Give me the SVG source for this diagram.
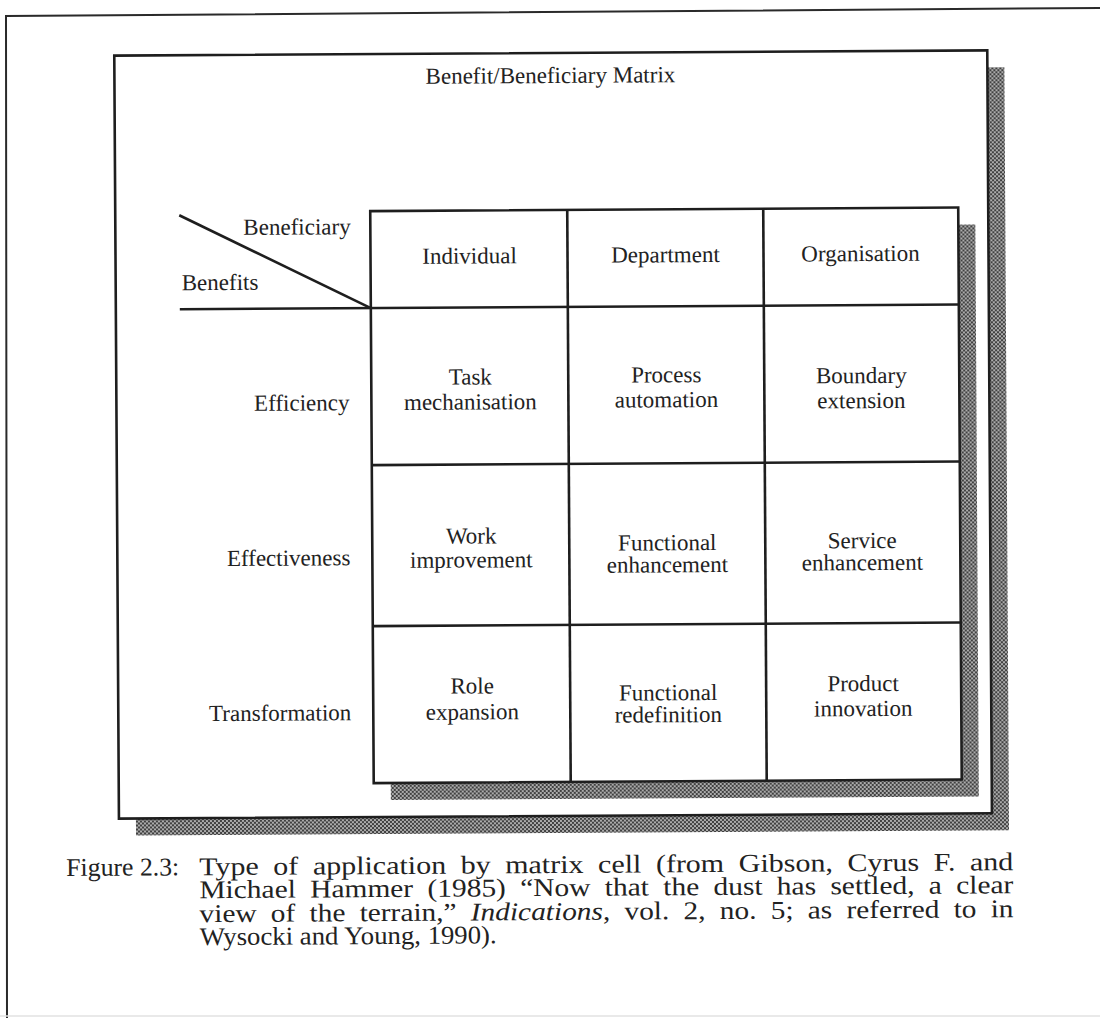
<svg xmlns="http://www.w3.org/2000/svg" width="1100" height="1018" viewBox="0 0 1100 1018">
  <defs>
    <!-- fine halftone used for the drop shadows -->
    <pattern id="dots" width="4" height="4" patternUnits="userSpaceOnUse">
      <rect width="4" height="4" fill="#acacac"/>
      <rect width="2" height="2" fill="#404040"/>
      <rect x="2" y="2" width="2" height="2" fill="#404040"/>
    </pattern>
    <style>
      .frame { fill: none; stroke: #2a2a2a; stroke-width: 2; }
      .box { fill: #ffffff; stroke: #1e1e1e; stroke-width: 2.6; }
      .grid { stroke: #1e1e1e; stroke-width: 2.6; fill: none; }
      .shadow { fill: url(#dots); }
      .t { font-family: "Liberation Serif", "Times New Roman", serif; font-size: 23px; fill: #222; }
      .c { text-anchor: middle; }
      .r { text-anchor: end; }
      .cap { font-family: "Liberation Serif", "Times New Roman", serif; font-size: 25.5px; fill: #222; }
      .just { word-spacing: 6px; }
    </style>
  </defs>

  <rect width="1100" height="1018" fill="#ffffff"/>

  <!-- page frame -->
  <path class="frame" d="M7,1018 L6,16 L1100,8"/>
  <line x1="0" y1="1016" x2="1100" y2="1016" stroke="#e2e2e2" stroke-width="1.5"/>

  <g transform="rotate(-0.35 550 500)">
    <!-- outer panel -->
    <g id="panel">
      <rect class="shadow" x="134" y="70" width="873" height="763"/>
      <rect class="box" x="117" y="53" width="873" height="763"/>
      <text class="t c" x="553" y="83" font-size="22">Benefit/Beneficiary Matrix</text>
    </g>

    <!-- matrix table -->
    <g id="matrix">
      <rect class="shadow" x="389" y="227" width="588" height="572"/>
      <rect class="box" x="372" y="210" width="588" height="572"/>
      <g id="grid-lines" class="grid">
        <line x1="569" y1="210" x2="569" y2="782"/>
        <line x1="765" y1="210" x2="765" y2="782"/>
        <line x1="181" y1="307" x2="960" y2="307"/>
        <line x1="372" y1="464" x2="960" y2="464"/>
        <line x1="372" y1="625" x2="960" y2="625"/>
        <line x1="181" y1="213" x2="372" y2="307"/>
      </g>
    </g>

    <!-- corner labels -->
    <g id="corner">
      <text class="t" x="245" y="233">Beneficiary</text>
      <text class="t" x="183" y="288">Benefits</text>
    </g>

    <!-- column headers -->
    <g id="col-individual"><text class="t c" x="471" y="263">Individual</text></g>
    <g id="col-department"><text class="t c" x="667" y="263">Department</text></g>
    <g id="col-organisation"><text class="t c" x="862" y="263">Organisation</text></g>

    <!-- row headers -->
    <g id="row-efficiency"><text class="t r" x="350" y="409">Efficiency</text></g>
    <g id="row-effectiveness"><text class="t r" x="350" y="564">Effectiveness</text></g>
    <g id="row-transformation"><text class="t r" x="350" y="719">Transformation</text></g>

    <!-- efficiency row -->
    <g id="cell-task"><text class="t c" x="471" y="384">Task</text><text class="t c" x="471" y="409">mechanisation</text></g>
    <g id="cell-process"><text class="t c" x="667" y="383">Process</text><text class="t c" x="667" y="408">automation</text></g>
    <g id="cell-boundary"><text class="t c" x="862" y="385">Boundary</text><text class="t c" x="862" y="410">extension</text></g>

    <!-- effectiveness row -->
    <g id="cell-work"><text class="t c" x="471" y="543">Work</text><text class="t c" x="471" y="567">improvement</text></g>
    <g id="cell-func-enh"><text class="t c" x="667" y="551" font-size="21">Functional</text><text class="t c" x="667" y="573" font-size="21">enhancement</text></g>
    <g id="cell-service"><text class="t c" x="862" y="550" font-size="21">Service</text><text class="t c" x="862" y="572" font-size="21">enhancement</text></g>

    <!-- transformation row -->
    <g id="cell-role"><text class="t c" x="471" y="693">Role</text><text class="t c" x="471" y="719">expansion</text></g>
    <g id="cell-func-redef"><text class="t c" x="667" y="701" font-size="21">Functional</text><text class="t c" x="667" y="723" font-size="21">redefinition</text></g>
    <g id="cell-product"><text class="t c" x="862" y="693">Product</text><text class="t c" x="862" y="718">innovation</text></g>

    <!-- caption (justified body lines) -->
    <g id="caption">
      <text class="cap" x="64" y="873" textLength="113" lengthAdjust="spacingAndGlyphs">Figure 2.3:</text>
      <text class="cap just" x="197" y="873" textLength="814" lengthAdjust="spacingAndGlyphs">Type of application by matrix cell (from Gibson, Cyrus F. and</text>
      <text class="cap just" x="197" y="896" textLength="814" lengthAdjust="spacingAndGlyphs">Michael Hammer (1985) “Now that the dust has settled, a clear</text>
      <text class="cap just" x="197" y="920" textLength="814" lengthAdjust="spacingAndGlyphs">view of the terrain,” <tspan font-style="italic">Indications</tspan>, vol. 2, no. 5; as referred to in</text>
      <text class="cap" x="197" y="943" textLength="297" lengthAdjust="spacingAndGlyphs">Wysocki and Young, 1990).</text>
    </g>
  </g>
</svg>
